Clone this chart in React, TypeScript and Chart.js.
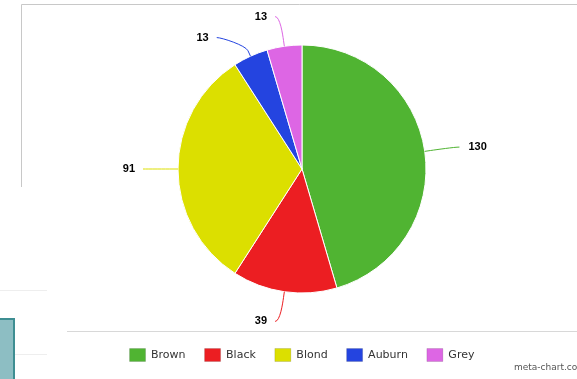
import React, { useEffect, useRef } from "react";
import { Chart, registerables } from "chart.js";

Chart.register(...registerables);

const categories = ["Brown", "Black", "Blond", "Auburn", "Grey"];
const counts = [130, 39, 91, 13, 13];
const sliceColors = ["#50b432", "#ec1e22", "#dcdf00", "#2444e0", "#dd66e4"];
const watermark = "meta-chart.com";

const framePlugin = {
  id: "frame",
  beforeDraw(chart: any) {
    const ctx = chart.ctx;
    ctx.save();
    ctx.fillStyle = "#ffffff";
    ctx.fillRect(0, 0, chart.width, chart.height);
    ctx.lineWidth = 1;
    ctx.strokeStyle = "#c8c8c8";
    ctx.beginPath();
    ctx.moveTo(21.5, 187);
    ctx.lineTo(21.5, 4.5);
    ctx.lineTo(chart.width, 4.5);
    ctx.stroke();
    ctx.strokeStyle = "#d8d8d8";
    ctx.beginPath();
    ctx.moveTo(67, 331.5);
    ctx.lineTo(chart.width, 331.5);
    ctx.stroke();
    ctx.strokeStyle = "#eeeeee";
    ctx.beginPath();
    ctx.moveTo(0, 290.5);
    ctx.lineTo(47, 290.5);
    ctx.moveTo(15, 354.5);
    ctx.lineTo(47, 354.5);
    ctx.stroke();
    ctx.fillStyle = "#8dbec3";
    ctx.fillRect(0, 318, 14, 70);
    ctx.strokeStyle = "#3e8e92";
    ctx.lineWidth = 2;
    ctx.beginPath();
    ctx.moveTo(0, 319);
    ctx.lineTo(14, 319);
    ctx.lineTo(14, chart.height);
    ctx.stroke();
    ctx.restore();
  },
  afterDraw(chart: any) {
    const ctx = chart.ctx;
    ctx.save();
    ctx.font = "9px 'DejaVu Sans'";
    ctx.fillStyle = "#555555";
    ctx.textAlign = "left";
    ctx.textBaseline = "middle";
    ctx.fillText(watermark, 514, 368);
    ctx.restore();
  },
};

const labelPlugin = {
  id: "pieLabels",
  afterDatasetsDraw(chart: any) {
    const meta = chart.getDatasetMeta(0);
    const ds = chart.data.datasets[0];
    const ctx = chart.ctx;
    const items = meta.data.map((arc: any, i: number) => {
      const p = arc.getProps(["x", "y", "startAngle", "endAngle", "outerRadius"], true);
      const a = (p.startAngle + p.endAngle) / 2;
      const left = Math.cos(a) < 0;
      const R = p.outerRadius + 30;
      return { i, cx: p.x, cy: p.y, r: p.outerRadius, R, a, left, y: p.y + R * Math.sin(a) };
    });
    for (const side of [true, false]) {
      const group = items.filter((it: any) => it.left === side).sort((p: any, q: any) => p.y - q.y);
      for (let k = 1; k < group.length; k++) {
        if (group[k].y - group[k - 1].y < 21) group[k].y = group[k - 1].y + 21;
      }
    }
    ctx.save();
    for (const it of items) {
      const dir = it.left ? -1 : 1;
      const dy = it.y - it.cy;
      const x = it.cx + dir * (Math.sqrt(Math.max(it.R * it.R - dy * dy, 0)) + 5);
      const tx = it.cx + it.r * Math.cos(it.a);
      const ty = it.cy + it.r * Math.sin(it.a);
      const bx = it.cx + (it.r + 6) * Math.cos(it.a);
      const by = it.cy + (it.r + 6) * Math.sin(it.a);
      ctx.strokeStyle = ds.backgroundColor[it.i];
      ctx.lineWidth = 1;
      ctx.beginPath();
      ctx.moveTo(x, it.y);
      ctx.bezierCurveTo(x - dir * 5, it.y, 2 * bx - tx, 2 * by - ty, bx, by);
      ctx.lineTo(tx, ty);
      ctx.stroke();
      ctx.font = "bold 11px 'Liberation Sans', Arial, sans-serif";
      ctx.fillStyle = "#000000";
      ctx.textBaseline = "middle";
      ctx.textAlign = it.left ? "right" : "left";
      ctx.fillText(String(ds.data[it.i]), x + dir * (it.left ? 8 : 9), it.y);
    }
    ctx.restore();
  },
};

export default function App() {
  const ref = useRef<HTMLCanvasElement>(null);
  useEffect(() => {
    if (!ref.current) return;
    const chart = new Chart(ref.current, {
      type: "pie",
      data: {
        labels: categories,
        datasets: [
          {
            data: counts,
            backgroundColor: sliceColors,
            borderColor: "#ffffff",
            borderWidth: 1,
            hoverOffset: 0,
          },
        ],
      },
      options: {
        responsive: false,
        animation: false,
        events: [],
        radius: 124,
        layout: { padding: { left: 27, right: 0, top: 8.5, bottom: 7.5 } },
        plugins: {
          tooltip: { enabled: false },
          legend: {
            position: "bottom",
            labels: {
              font: { family: "'DejaVu Sans'", size: 11 },
              color: "#333333",
              boxWidth: 16,
              boxHeight: 13,
              padding: 19,
              generateLabels: (c: any) => {
                const base = (Chart as any).overrides.pie.plugins.legend.labels.generateLabels(c);
                return base.map((l: any) => ({ ...l, strokeStyle: "rgba(0,0,0,0.12)", lineWidth: 1 }));
              },
            },
          },
        },
      } as any,
      plugins: [framePlugin, labelPlugin],
    });
    return () => chart.destroy();
  }, []);
  return (
    <div style={{ position: "absolute", left: 0, top: 0, width: 577, height: 379, overflow: "hidden" }}>
      <canvas ref={ref} width={577} height={379} style={{ display: "block" }} />
    </div>
  );
}
